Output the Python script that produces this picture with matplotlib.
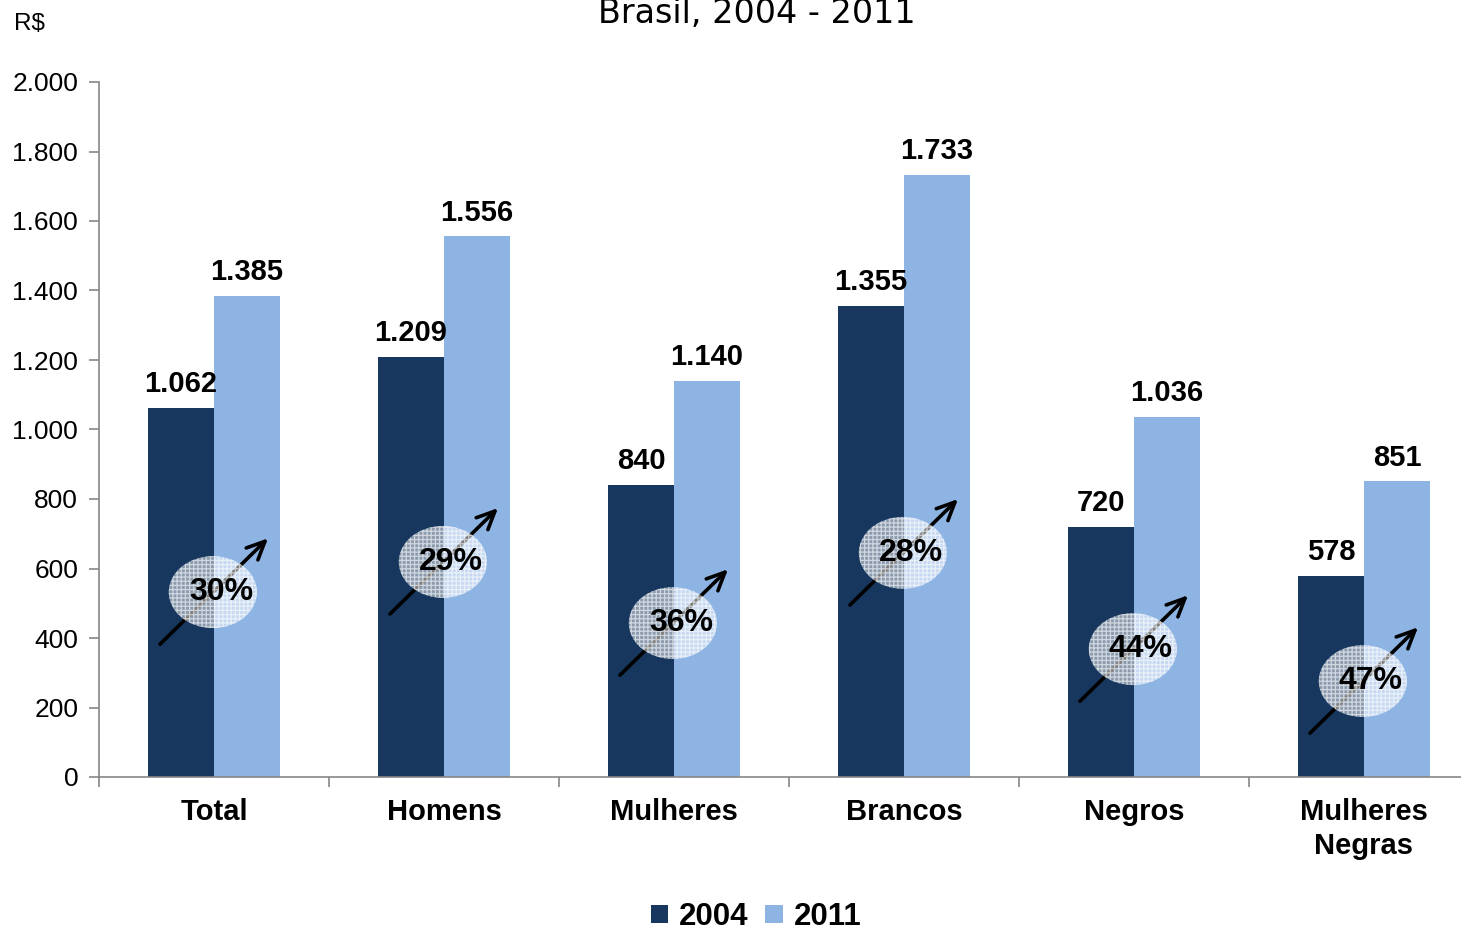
import numpy as np
import matplotlib.pyplot as plt
from matplotlib.patches import Ellipse

# Rendimento médio por grupo
categorias = ["Total", "Homens", "Mulheres", "Brancos", "Negros", "Mulheres\nNegras"]
valores_2004 = [1062, 1209, 840, 1355, 720, 578]
valores_2011 = [1385, 1556, 1140, 1733, 1036, 851]
anos = ["2004", "2011"]

# altura (em R$) onde fica o selo com a variação de cada grupo
selo_y = [532, 619, 443, 645, 368, 276]

cor_2004 = "#17375E"
cor_2011 = "#8EB4E3"
cinza = "#868686"

plt.rcParams["font.family"] = ["Liberation Sans", "DejaVu Sans"]
plt.rcParams["hatch.linewidth"] = 0.9

fig = plt.figure(figsize=(14.61, 9.32), dpi=100)
ax = fig.add_axes([99 / 1461, 155 / 932, 1380 / 1461, 695 / 932])

x = np.arange(len(categorias))
w = 0.287
b1 = ax.bar(x - w / 2, valores_2004, w, color=cor_2004, label=anos[0], zorder=2)
b2 = ax.bar(x + w / 2, valores_2011, w, color=cor_2011, label=anos[1], zorder=2)

def fmt(v):
    return f"{v:,}".replace(",", ".")

for barras in (b1, b2):
    for r in barras:
        v = r.get_height()
        ax.annotate(fmt(int(v)), (r.get_x() + r.get_width() / 2, v),
                    xytext=(0, 7), textcoords="offset points",
                    ha="center", va="bottom", fontsize=21, fontweight="bold")

# selo com seta e percentual de crescimento
for i, (a, b) in enumerate(zip(valores_2004, valores_2011)):
    cx, cy = i - 0.005, selo_y[i]
    ax.annotate("", xy=(cx + 0.24, cy + 155), xytext=(cx - 0.23, cy - 150),
                arrowprops=dict(arrowstyle="->,head_length=1.3,head_width=0.6",
                                color="black", lw=2.6, shrinkA=0, shrinkB=0),
                zorder=3)
    ax.add_patch(Ellipse((cx, cy), 0.383, 207, facecolor="white", alpha=0.5,
                         edgecolor="none", lw=0, zorder=4))
    ax.add_patch(Ellipse((cx, cy), 0.383, 207, facecolor="none", alpha=0.6,
                         edgecolor="white", hatch="++++", lw=0, zorder=4))
    pct = round((b / a - 1) * 100)
    ax.text(cx + 0.035, cy, f"{pct}%", ha="center", va="center",
            fontsize=23, fontweight="bold", zorder=5)

ax.set_xlim(-0.5, 5.5)
ax.set_ylim(0, 2000)
ax.set_yticks(np.arange(0, 2001, 200))
ax.set_yticklabels([fmt(v) for v in range(0, 2001, 200)], fontsize=19)
ax.set_xticks(x)
ax.set_xticklabels(categorias, fontsize=21, fontweight="bold", linespacing=1.3)
ax.set_xticks(np.arange(-0.5, 6, 1), minor=True)
ax.tick_params(axis="x", which="major", length=0, pad=15)
ax.tick_params(axis="x", which="minor", length=7, color=cinza, width=1.2)
ax.tick_params(axis="y", length=7, color=cinza, width=1.2, pad=8)

for s in ("top", "right"):
    ax.spines[s].set_visible(False)
for s in ("left", "bottom"):
    ax.spines[s].set_color(cinza)
    ax.spines[s].set_linewidth(1.2)

fig.text(14 / 1461, 1 - 24 / 932, "R$", fontsize=17.5, va="center", ha="left")
fig.text(757 / 1461, 1 - 23 / 932, "Brasil, 2004 - 2011", fontsize=24,
         ha="center", va="baseline", family="DejaVu Sans")

fig.legend(loc="center", bbox_to_anchor=(756 / 1461, 15 / 932), ncol=2,
           frameon=False, prop=dict(size=22.5, weight="bold"),
           handlelength=0.55, handleheight=0.55, handletextpad=0.35,
           columnspacing=0.55)

fig.savefig("out.png", dpi=100)
